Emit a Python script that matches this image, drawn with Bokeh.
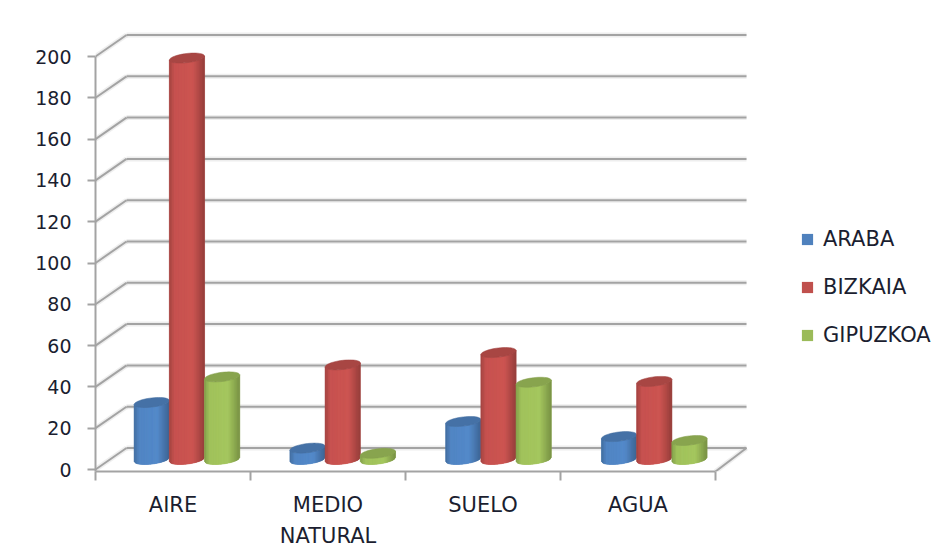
from bokeh.plotting import figure
from bokeh.models import ColumnDataSource, Range1d, FixedTicker, Legend, LegendItem
from bokeh.embed import file_html
from bokeh.resources import INLINE
import math

categories = ["AIRE", "MEDIO\nNATURAL", "SUELO", "AGUA"]
araba = [27.6, 5.5, 18.4, 11.1]
bizkaia = [194.4, 45.8, 51.8, 37.8]
gipuzkoa = [40, 3, 37.4, 9.2]
y_ticks = [0, 20, 40, 60, 80, 100, 120, 140, 160, 180, 200]

FONT = "DejaVu Sans"
TXT = "#1b1e30"
GRID = "#a3a3a3"
PX_X = 155.0
PX_Y = 2.065
DX = 31 / PX_X
DY = 10.4
BAR_PITCH = 35.2 / PX_X
BAR_A = 17.6 / PX_X
BAR_B = 4.6 / PX_Y
BAR_K = 2.0 / PX_Y
BASE = 4.85
CENTER = 0.59
GROUP_STEP = 1.005
STRIPS = 22
FLOOR = -2 / PX_Y

p = figure(width=936, height=552, output_backend="svg", toolbar_location=None,
           x_range=Range1d(0, 841 / PX_X), y_range=Range1d(FLOOR, 439 / PX_Y),
           min_border_left=95, min_border_right=0, min_border_top=30, min_border_bottom=81,
           outline_line_color=None, background_fill_color="white", border_fill_color="white")
p.grid.visible = False

n = len(categories)
for w, a in [(5, 0.18), (2, 1.0)]:
    p.segment(x0=[DX] * len(y_ticks), y0=[v + DY for v in y_ticks],
              x1=[n + DX] * len(y_ticks), y1=[v + DY for v in y_ticks],
              line_color=GRID, line_width=w, line_alpha=a)
    p.segment(x0=[0] * len(y_ticks), y0=y_ticks, x1=[DX] * len(y_ticks), y1=[v + DY for v in y_ticks],
              line_color=GRID, line_width=w, line_alpha=a)
    p.segment(x0=[n], y0=[FLOOR], x1=[n + DX], y1=[DY],
              line_color=GRID, line_width=w, line_alpha=a)


def shade(hex_c, f):
    r, g, b = [int(hex_c[i:i + 2], 16) for i in (1, 3, 5)]
    c = [min(255, int(v * f)) for v in (r, g, b)]
    return "#%02x%02x%02x" % tuple(c)


def profile(u):
    if u < -0.7:
        return 0.84 + (u + 1) / 0.3 * 0.2
    if u < 0.35:
        return 1.04 + (u + 0.7) / 1.05 * 0.03
    return 1.07 - (u - 0.35) / 0.65 * 0.29


def edge(u):
    return -BAR_B * math.sqrt(max(0.0, 1 - u * u)) + BAR_K * u


series = [("ARABA", araba, "#4f81bd", -1), ("BIZKAIA", bizkaia, "#c0504d", 0), ("GIPUZKOA", gipuzkoa, "#9bbb59", 1)]
items = []
for name, vals, col, off in series:
    sil_x, sil_y = [], []
    xs, ys, cs = [], [], []
    tx, ty = [], []
    for i, v in enumerate(vals):
        cx = i * GROUP_STEP + CENTER + off * BAR_PITCH
        top = BASE + v
        us = [-1 + 2 * k / 40 for k in range(41)]
        sil_x.append([cx + BAR_A * u for u in us] + [cx + BAR_A * u for u in reversed(us)])
        sil_y.append([BASE + edge(u) for u in us] + [top + edge(u) for u in reversed(us)])
        for k in range(STRIPS):
            u0 = -1 + 2 * k / STRIPS
            u1 = -1 + 2 * (k + 1) / STRIPS
            xs.append([cx + BAR_A * u0, cx + BAR_A * u1, cx + BAR_A * u1, cx + BAR_A * u0])
            ys.append([BASE + edge(u0), BASE + edge(u1), top + edge(u1), top + edge(u0)])
            cs.append(shade(col, profile((u0 + u1) / 2)))
        ts = [2 * math.pi * k / 48 for k in range(48)]
        tx.append([cx + BAR_A * math.cos(t) for t in ts])
        ty.append([top + BAR_B * math.sin(t) + BAR_K * math.cos(t) for t in ts])
    r = p.patches(sil_x, sil_y, fill_color=col, line_color=None)
    p.patches("xs", "ys", fill_color="c", line_color="c", line_width=0.6,
              source=ColumnDataSource(dict(xs=xs, ys=ys, c=cs)))
    p.patches(tx, ty, fill_color=shade(col, 0.88), line_color=shade(col, 0.84), line_width=0.5)
    items.append(LegendItem(label=name, renderers=[r]))

ya = p.yaxis[0]
ya.ticker = FixedTicker(ticks=y_ticks)
ya.bounds = (FLOOR, 200)
ya.axis_line_color = GRID
ya.axis_line_width = 2
ya.major_tick_line_color = GRID
ya.major_tick_line_width = 2
ya.major_tick_in = 0
ya.major_tick_out = 8
ya.minor_tick_line_color = None
ya.major_label_standoff = 16
ya.major_label_text_font = FONT
ya.major_label_text_font_size = "19px"
ya.major_label_text_color = TXT

xa = p.xaxis[0]
xa.ticker = FixedTicker(ticks=[i + 0.5 for i in range(n)], minor_ticks=list(range(n + 1)))
xa.major_label_overrides = {i + 0.5: c for i, c in enumerate(categories)}
xa.bounds = (0, n)
xa.axis_line_color = GRID
xa.axis_line_width = 2
xa.major_tick_line_color = None
xa.major_tick_in = 0
xa.major_tick_out = 0
xa.minor_tick_line_color = GRID
xa.minor_tick_line_width = 2
xa.minor_tick_in = 0
xa.minor_tick_out = 9
xa.major_label_standoff = 12
xa.major_label_text_font = FONT
xa.major_label_text_font_size = "21px"
xa.major_label_text_line_height = 1.3
xa.major_label_text_color = TXT

leg = Legend(items=items, location=(705, 124), orientation="vertical",
             border_line_color=None, background_fill_alpha=0,
             glyph_width=14, glyph_height=14, label_standoff=9, spacing=24,
             padding=0, margin=0,
             label_text_font=FONT, label_text_font_size="21px", label_text_color=TXT)
p.add_layout(leg, "center")

open("out.html", "w").write(file_html(p, INLINE))
